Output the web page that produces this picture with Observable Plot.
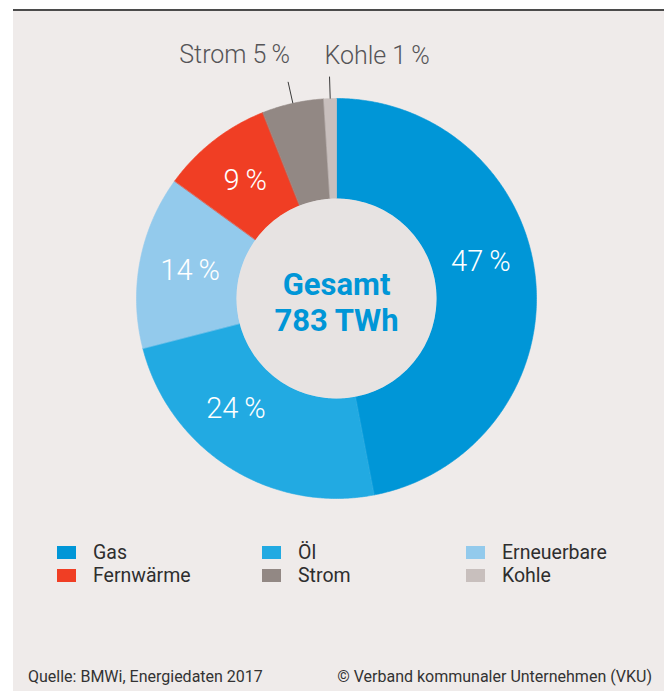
<!DOCTYPE html>
<html>
<head>
<meta charset="utf-8">
<script src="https://cdn.jsdelivr.net/npm/d3@7"></script>
<script src="https://cdn.jsdelivr.net/npm/@observablehq/plot@0.6"></script>
<style>
  html, body { margin: 0; padding: 0; background: #ffffff; }
  #frame {
    position: absolute; left: 13px; top: 9px; width: 651px; height: 680px;
    background: #efebea; border-top: 2px solid #4b4b4b;
    font-family: Roboto, "Open Sans", "DejaVu Sans", sans-serif;
  }
  #chart { position: absolute; left: 0; top: 0; }
  #legend { position: absolute; left: 0; top: 531px; width: 651px; }
  .item { position: absolute; font-size: 19.5px; color: #2e2e2e; line-height: 21px; }
  .sw { position: absolute; width: 19px; height: 13px; top: 4px; left: 0; }
  .lab { position: absolute; left: 36px; top: 0; white-space: nowrap; }
  .foot { position: absolute; top: 656px; font-size: 16px; color: #333; white-space: nowrap; }
</style>
</head>
<body>
<div id="frame">
  <div id="chart"></div>
  <div id="legend"></div>
  <div class="foot" id="src" style="left:15px"></div>
  <div class="foot" id="cred" style="right:12px"></div>
</div>
<script>
// ---- data ----
const categories = ["Gas", "Öl", "Erneuerbare", "Fernwärme", "Strom", "Kohle"];
const shares = [47, 24, 14, 9, 5, 1];
const colors = ["#0096d7", "#22aae2", "#93caec", "#f03e24", "#928884", "#c8bfbd"];
const insideLabels = ["Gas", "Öl", "Erneuerbare", "Fernwärme"];
const outsideLabels = ["Strom", "Kohle"];
const centerLines = ["Gesamt", "783 TWh"];
const sourceText = "Quelle: BMWi, Energiedaten 2017";
const creditText = "© Verband kommunaler Unternehmen (VKU)";

// ---- layout (code, not data) ----
const R_OUT = 1, R_IN = 0.5;
const labelShift = {"Gas": -9, "Öl": 10}; // degrees
const total = d3.sum(shares);
const slices = [];
let acc = 0;
categories.forEach((c, i) => {
  const a0 = acc / total * 360, a1 = (acc + shares[i]) / total * 360;
  acc += shares[i];
  slices.push({cat: c, value: shares[i], a0, a1, mid: (a0 + a1) / 2});
});
const rad = (deg) => deg * Math.PI / 180;
const pt = (r, deg) => [r * Math.sin(rad(deg)), r * Math.cos(rad(deg))];

const poly = [];
for (const s of slices) {
  const n = Math.max(2, Math.ceil((s.a1 - s.a0) / 0.5));
  for (let k = 0; k <= n; k++) {
    const [x, y] = pt(R_OUT, s.a0 + (s.a1 - s.a0) * k / n);
    poly.push({cat: s.cat, x, y});
  }
  for (let k = n; k >= 0; k--) {
    const [x, y] = pt(R_IN, s.a0 + (s.a1 - s.a0) * k / n);
    poly.push({cat: s.cat, x, y});
  }
}

const inside = slices.filter(s => insideLabels.includes(s.cat)).map(s => {
  const [x, y] = pt(0.745, s.mid + (labelShift[s.cat] || 0));
  return {x, y, text: s.value + "\u2009%"};
});
const outside = slices.filter(s => outsideLabels.includes(s.cat));
const leaders = outside.map(s => {
  const [x1, y1] = pt(1.0, s.mid);
  const [x2, y2] = pt(1.11, s.mid);
  return {x1, y1, x2, y2};
});
const outsideText = outside.map((s, i) => {
  const [x, y] = pt(1.11, s.mid);
  const left = i === 0;
  return {x, y, text: s.cat + " " + s.value + "\u2009%", anchor: left ? "end" : "start"};
});

const W = 651, H = 510, cx = 323, cy = 287, PX = 200;
const plot = Plot.plot({
  width: W, height: H,
  margin: 0,
  x: {domain: [-cx / PX, (W - cx) / PX], axis: null},
  y: {domain: [-(H - cy) / PX, cy / PX], axis: null},
  color: {domain: categories, range: colors},
  style: {background: "transparent", overflow: "visible"},
  marks: [
    Plot.line(poly, {x: "x", y: "y", z: "cat", fill: "cat", stroke: "cat", strokeWidth: 0.6, curve: "linear-closed"}),
    Plot.dot([{x: 0, y: 0}], {x: "x", y: "y", r: R_IN * PX, fill: "#e7e3e2", stroke: "none"}),
    Plot.text(inside, {x: "x", y: "y", text: "text", fill: "white", fontSize: 29, fontWeight: 300, fontFamily: "Roboto, sans-serif"}),
    Plot.link(leaders, {x1: "x1", y1: "y1", x2: "x2", y2: "y2", stroke: "#3a3a3a", strokeWidth: 1}),
    Plot.text(outsideText.filter(d => d.anchor === "end"), {x: "x", y: "y", text: "text", textAnchor: "end", dx: 2, dy: -27, fill: "#555457", fontSize: 25, fontWeight: 300, fontFamily: "Roboto, sans-serif"}),
    Plot.text(outsideText.filter(d => d.anchor === "start"), {x: "x", y: "y", text: "text", textAnchor: "start", dx: -5, dy: -21, fill: "#555457", fontSize: 25, fontWeight: 300, fontFamily: "Roboto, sans-serif"}),
    Plot.text([centerLines[0]], {x: () => 0, y: () => 0, text: d => d, dy: -13, fill: "#0096d7", fontSize: 31, fontWeight: "bold", fontFamily: "Roboto, sans-serif"}),
    Plot.text([centerLines[1]], {x: () => 0, y: () => 0, text: d => d, dy: 23, fill: "#0096d7", fontSize: 31, fontWeight: "bold", fontFamily: "Roboto, sans-serif"})
  ]
});
document.getElementById("chart").appendChild(plot);

// legend
const legend = document.getElementById("legend");
const colX = [44, 249, 453];
categories.forEach((c, i) => {
  const el = document.createElement("div");
  el.className = "item";
  el.style.left = colX[i % 3] + "px";
  el.style.top = (Math.floor(i / 3) * 23) + "px";
  el.innerHTML = `<div class="sw" style="background:${colors[i]}"></div><div class="lab">${c}</div>`;
  legend.appendChild(el);
});
document.getElementById("src").textContent = sourceText;
document.getElementById("cred").textContent = creditText;
</script>
</body>
</html>
